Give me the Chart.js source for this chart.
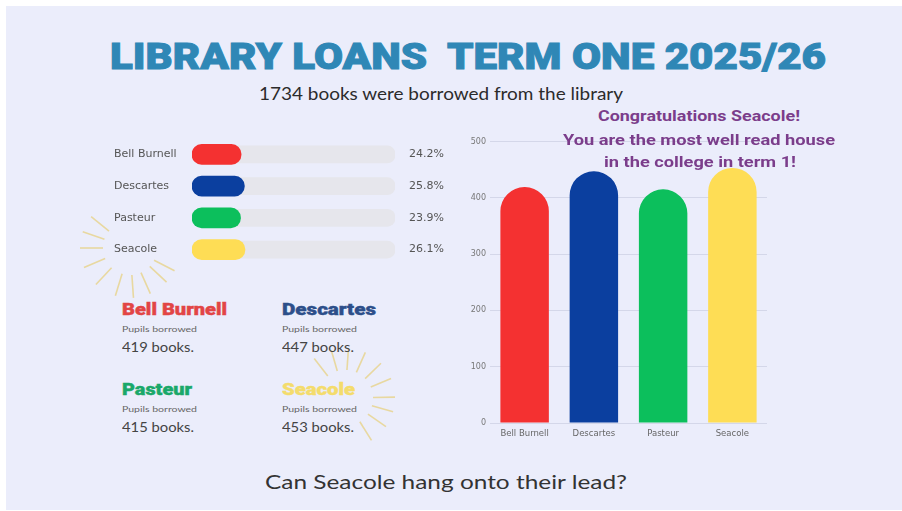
<!DOCTYPE html>
<html>
<head>
<meta charset="utf-8">
<script src="https://cdn.jsdelivr.net/npm/chart.js@4.4.1/dist/chart.umd.min.js"></script>
<style>
  html, body { margin: 0; padding: 0; background: #fff; }
  body { width: 902px; height: 511px; position: relative; overflow: hidden; font-family: Lato, "Noto Sans", sans-serif; }
  #panel { position: absolute; left: 6px; top: 6px; width: 896px; height: 504px; background: #ebedfb; }
  .t { position: absolute; white-space: nowrap; line-height: 1; transform-origin: left center; }
  .heavy { font-family: Roboto, Lato, sans-serif; font-weight: 900; }
  .box { position: absolute; }
  #rays { position: absolute; left: 0; top: 0; }
</style>
</head>
<body>
<div id="panel"></div>
<svg id="rays" width="902" height="511"></svg>

<div class="box" style="left:114px; top:132px; width:345px; height:140px;"><canvas id="shareChart"></canvas></div>
<div class="box" style="left:455px; top:130px; width:312px; height:313px;"><canvas id="loansChart"></canvas></div>

<div class="t heavy" data-w="716" style="left:110px; top:38px; font-size:37px; color:#2f87b6; -webkit-text-stroke:1px #2f87b6;">LIBRARY LOANS&nbsp; TERM ONE 2025/26</div>
<div class="t" data-w="364" style="left:259px; top:84px; font-size:18px; color:#2b2b2b;">1734 books were borrowed from the library</div>

<div class="t heavy" data-w="202" style="left:598px; top:109px; font-size:15px; font-weight:700; color:#7b3d8b;">Congratulations Seacole!</div>
<div class="t heavy" data-w="272" style="left:563px; top:133px; font-size:15px; font-weight:700; color:#7b3d8b;">You are the most well read house</div>
<div class="t heavy" data-w="192" style="left:604px; top:155px; font-size:15px; font-weight:700; color:#7b3d8b;">in the college in term 1!</div>

<div id="cards"></div>

<div class="t" data-w="362" style="left:265px; top:471px; font-size:20px; color:#333;">Can Seacole hang onto their lead?</div>

<script>
// data
const houses = ['Bell Burnell', 'Descartes', 'Pasteur', 'Seacole'];
const houseColours = ['#f43131', '#0b3f9f', '#0cbf5c', '#fedd55'];
const cardColours = ['#e24545', '#2d4f8a', '#1aa86a', '#f4dc6c'];
const booksBorrowed = [419, 447, 415, 453];
const sharePercent = [24.2, 25.8, 23.9, 26.1];
const yTicks = [0, 100, 200, 300, 400, 500];

// house cards under the share bars
const cardSpots = [[122, 311], [282, 311], [122, 391], [282, 391]];
const cardNameWidths = [105, 94, 70, 73];
const cards = document.getElementById('cards');
houses.forEach((h, i) => {
    const [x, y] = cardSpots[i];
    cards.insertAdjacentHTML('beforeend',
        `<div class="t heavy" data-w="${cardNameWidths[i]}" style="left:${x}px; top:${y - 9}px; font-size:16px; color:${cardColours[i]}; -webkit-text-stroke:0.4px ${cardColours[i]};">${h}</div>` +
        `<div class="t" data-w="75" style="left:${x}px; top:${y + 14}px; font-size:8px; color:#666;">Pupils borrowed</div>` +
        `<div class="t" data-w="72" style="left:${x}px; top:${y + 29}px; font-size:14px; color:#444;">${booksBorrowed[i]} books.</div>`);
});

// stretch texts to the width they have in the picture
document.querySelectorAll('.t[data-w]').forEach(el => {
    const w = el.getBoundingClientRect().width;
    el.style.transform = `scaleX(${el.dataset.w / w})`;
});

// sunburst decoration
const svg = document.getElementById('rays');
const bursts = [
    { cx: 130, cy: 248, rIn: 27, rOut: 50, angles: [219, 199, 180, 157, 133, 107, 86, 66, 43, 27] },
    { cx: 345, cy: 398, rIn: 28, rOut: 50, angles: [232, 254, 274, 294, 316, 337, 359, 16, 35, 58] }
];
bursts.forEach(b => {
    b.angles.forEach(a => {
        const r = a * Math.PI / 180;
        const line = document.createElementNS('http://www.w3.org/2000/svg', 'line');
        line.setAttribute('x1', b.cx + b.rIn * Math.cos(r));
        line.setAttribute('y1', b.cy + b.rIn * Math.sin(r));
        line.setAttribute('x2', b.cx + b.rOut * Math.cos(r));
        line.setAttribute('y2', b.cy + b.rOut * Math.sin(r));
        line.setAttribute('stroke', '#e8d8a0');
        line.setAttribute('stroke-width', '1.6');
        svg.appendChild(line);
    });
});

Chart.defaults.font.family = '"DejaVu Sans", sans-serif';
Chart.defaults.animation = false;

// percentage labels at the end of each track
const percentLabels = {
    id: 'percentLabels',
    afterDatasetsDraw(chart) {
        const ctx = chart.ctx;
        const meta = chart.getDatasetMeta(0);
        ctx.save();
        ctx.font = '11px "DejaVu Sans", sans-serif';
        ctx.fillStyle = '#555';
        ctx.textBaseline = 'middle';
        meta.data.forEach((bar, i) => {
            ctx.fillText(sharePercent[i].toFixed(1) + '%', chart.chartArea.right + 14, bar.y);
        });
        ctx.restore();
    }
};

new Chart(document.getElementById('shareChart'), {
    type: 'bar',
    data: {
        labels: houses,
        datasets: [{
            data: sharePercent,
            backgroundColor: houseColours,
            barThickness: 20,
            borderRadius: 10,
            borderSkipped: false,
            grouped: false
        }, {
            data: houses.map(() => 100),
            backgroundColor: '#e6e6ec',
            barThickness: 17,
            borderRadius: 8,
            borderSkipped: false,
            grouped: false
        }]
    },
    options: {
        indexAxis: 'y',
        responsive: true,
        maintainAspectRatio: false,
        layout: { padding: { right: 64 } },
        plugins: { legend: { display: false }, tooltip: { enabled: false } },
        scales: {
            x: { display: false, min: 0, max: 100 },
            y: {
                grid: { display: false, drawTicks: false },
                border: { display: false },
                ticks: { crossAlign: 'far', color: '#555', font: { size: 11 }, padding: 0 },
                afterFit: axis => { axis.width = 78; }
            }
        }
    },
    plugins: [percentLabels]
});

new Chart(document.getElementById('loansChart'), {
    type: 'bar',
    data: {
        labels: houses,
        datasets: [{
            data: booksBorrowed,
            backgroundColor: houseColours,
            categoryPercentage: 1,
            barPercentage: 0.7,
            borderRadius: { topLeft: 24, topRight: 24, bottomLeft: 0, bottomRight: 0 },
            borderSkipped: 'bottom'
        }]
    },
    options: {
        responsive: true,
        maintainAspectRatio: false,
        layout: { padding: { top: 11.5 } },
        plugins: { legend: { display: false }, tooltip: { enabled: false } },
        scales: {
            x: {
                grid: { display: false, drawTicks: false },
                border: { display: false },
                ticks: { color: '#666', font: { size: 8.5 }, padding: 6 },
                afterFit: axis => { axis.height = 20; }
            },
            y: {
                min: 0,
                max: 500,
                afterBuildTicks: axis => { axis.ticks = yTicks.map(v => ({ value: v })); },
                grid: { color: 'rgba(185,188,210,0.45)', drawTicks: false },
                border: { display: false },
                ticks: { color: '#777', font: { size: 8 }, padding: 4 },
                afterFit: axis => { axis.width = 35; }
            }
        }
    }
});
</script>
</body>
</html>
